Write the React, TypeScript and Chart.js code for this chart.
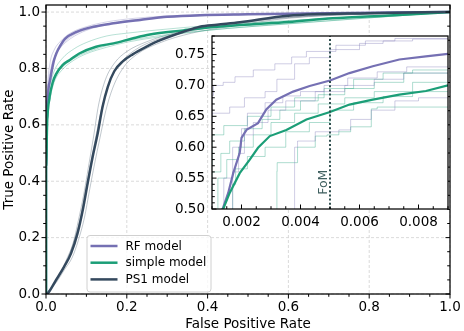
import React, { useEffect, useRef } from "react";
import { Chart, registerables } from "chart.js";
Chart.register(...registerables);

const FONT = '"DejaVu Sans", sans-serif';

// ---------- tick labels ----------
const mainXTicks = [0, 0.2, 0.4, 0.6, 0.8, 1.0];
const mainXLabels = ["0.0", "0.2", "0.4", "0.6", "0.8", "1.0"];
const mainYTicks = [0, 0.2, 0.4, 0.6, 0.8, 1.0];
const mainYLabels = ["0.0", "0.2", "0.4", "0.6", "0.8", "1.0"];
const insetXTicks = [0.002, 0.004, 0.006, 0.008];
const insetXLabels = ["0.002", "0.004", "0.006", "0.008"];
const insetYTicks = [0.5, 0.55, 0.6, 0.65, 0.7, 0.75];
const insetYLabels = ["0.50", "0.55", "0.60", "0.65", "0.70", "0.75"];
const fomX = 0.005;
const fomLabel = "FoM";
const seriesNames = ["RF model", "simple model", "PS1 model"];
const xTitle = "False Positive Rate";
const yTitle = "True Positive Rate";

// ---------- mean ROC curves ----------
const rfFpr = [0, 0, 0.00136, 0.00155, 0.00172, 0.00194, 0.002, 0.00217, 0.00256, 0.00284, 0.00318, 0.00375, 0.00431, 0.005, 0.00566, 0.00645, 0.00735, 0.00825, 0.009, 0.014, 0.02, 0.026, 0.035, 0.047, 0.076, 0.117, 0.167, 0.233, 0.3, 0.381, 0.5, 0.7, 0.85, 1.0];
const rfTpr = [0, 0.45, 0.5, 0.526, 0.558, 0.591, 0.615, 0.628, 0.639, 0.661, 0.677, 0.69, 0.699, 0.708, 0.72, 0.731, 0.742, 0.747, 0.751, 0.79, 0.83, 0.855, 0.88, 0.905, 0.93, 0.948, 0.96, 0.972, 0.983, 0.989, 0.992, 0.996, 0.998, 1.0];

const simpleFpr = [0, 0, 0.00138, 0.0016, 0.00194, 0.00228, 0.00256, 0.00296, 0.00352, 0.0042, 0.005, 0.00566, 0.00645, 0.00735, 0.00825, 0.009, 0.0165, 0.025, 0.041, 0.059, 0.0825, 0.124, 0.167, 0.216, 0.257, 0.34, 0.381, 0.48, 0.6, 0.71, 0.85, 1.0];
const simpleTpr = [0, 0.45, 0.5, 0.526, 0.558, 0.58, 0.599, 0.618, 0.628, 0.645, 0.657, 0.669, 0.677, 0.685, 0.691, 0.7, 0.75, 0.78, 0.812, 0.83, 0.853, 0.877, 0.889, 0.907, 0.92, 0.935, 0.942, 0.954, 0.965, 0.978, 0.988, 1.0];

const ps1Fpr = [0, 0.004, 0.025, 0.045, 0.062, 0.078, 0.091, 0.103, 0.1155, 0.128, 0.14, 0.153, 0.169, 0.19, 0.2145, 0.25, 0.274, 0.34, 0.381, 0.423, 0.48, 0.6, 0.8, 1.0];
const ps1Tpr = [0, 0.002, 0.05, 0.097, 0.144, 0.215, 0.298, 0.392, 0.487, 0.57, 0.664, 0.735, 0.79, 0.825, 0.85, 0.878, 0.895, 0.93, 0.948, 0.955, 0.964, 0.987, 0.996, 1.0];

// ---------- cross-validation folds (main panel) ----------
const rfFold1X = [0, 0, 0.004, 0.01, 0.02, 0.035, 0.06, 0.1, 0.15, 0.22, 0.3, 0.45, 0.7, 1.0];
const rfFold1Y = [0, 0.6, 0.74, 0.82, 0.865, 0.895, 0.925, 0.948, 0.965, 0.978, 0.986, 0.992, 0.997, 1.0];
const rfFold2X = [0, 0, 0.004, 0.01, 0.02, 0.035, 0.06, 0.1, 0.15, 0.22, 0.3, 0.45, 0.7, 1.0];
const rfFold2Y = [0, 0.55, 0.69, 0.77, 0.835, 0.872, 0.905, 0.935, 0.955, 0.97, 0.981, 0.99, 0.995, 1.0];
const rfFold3X = [0, 0, 0.004, 0.012, 0.025, 0.04, 0.07, 0.11, 0.16, 0.23, 0.32, 0.5, 0.75, 1.0];
const rfFold3Y = [0, 0.5, 0.7, 0.8, 0.85, 0.885, 0.92, 0.942, 0.96, 0.975, 0.984, 0.991, 0.996, 1.0];

const sFold1X = [0, 0, 0.004, 0.01, 0.02, 0.04, 0.07, 0.1, 0.15, 0.2, 0.28, 0.4, 0.6, 1.0];
const sFold1Y = [0, 0.6, 0.69, 0.74, 0.79, 0.835, 0.87, 0.892, 0.915, 0.925, 0.937, 0.952, 0.97, 1.0];
const sFold2X = [0, 0, 0.004, 0.01, 0.02, 0.04, 0.07, 0.1, 0.15, 0.2, 0.28, 0.4, 0.6, 1.0];
const sFold2Y = [0, 0.5, 0.62, 0.69, 0.75, 0.795, 0.83, 0.852, 0.875, 0.893, 0.912, 0.935, 0.958, 1.0];
const sFold3X = [0, 0, 0.005, 0.012, 0.025, 0.045, 0.075, 0.11, 0.16, 0.22, 0.3, 0.45, 0.65, 1.0];
const sFold3Y = [0, 0.52, 0.66, 0.72, 0.775, 0.81, 0.84, 0.862, 0.885, 0.903, 0.92, 0.942, 0.964, 1.0];

const psFold1X = [0, 0.02, 0.04, 0.055, 0.07, 0.085, 0.097, 0.11, 0.125, 0.14, 0.16, 0.185, 0.22, 0.27, 0.35, 0.45, 0.6, 0.8, 1.0];
const psFold1Y = [0, 0.035, 0.08, 0.13, 0.19, 0.27, 0.36, 0.46, 0.57, 0.67, 0.76, 0.82, 0.865, 0.9, 0.93, 0.955, 0.98, 0.994, 1.0];
const psFold2X = [0, 0.025, 0.045, 0.065, 0.08, 0.095, 0.108, 0.12, 0.133, 0.148, 0.165, 0.19, 0.225, 0.28, 0.36, 0.46, 0.6, 0.8, 1.0];
const psFold2Y = [0, 0.04, 0.085, 0.13, 0.19, 0.27, 0.37, 0.46, 0.55, 0.65, 0.73, 0.8, 0.85, 0.89, 0.925, 0.95, 0.978, 0.993, 1.0];
const psFold3X = [0, 0.018, 0.035, 0.05, 0.067, 0.08, 0.093, 0.105, 0.118, 0.13, 0.147, 0.17, 0.2, 0.25, 0.33, 0.43, 0.6, 0.8, 1.0];
const psFold3Y = [0, 0.03, 0.07, 0.12, 0.18, 0.26, 0.35, 0.45, 0.56, 0.67, 0.76, 0.82, 0.86, 0.895, 0.93, 0.955, 0.982, 0.995, 1.0];

// ---------- cross-validation folds (inset, step curves) ----------
const rfInFold1X = [0.001, 0.00105, 0.00138, 0.00178, 0.0024, 0.00313, 0.0037, 0.0042, 0.0052, 0.0062, 0.0072, 0.009];
const rfInFold1Y = [0.65, 0.684, 0.7, 0.705, 0.714, 0.725, 0.735, 0.746, 0.755, 0.765, 0.772, 0.776];
const rfInFold2X = [0.001, 0.0016, 0.0021, 0.0028, 0.0032, 0.0038, 0.0043, 0.005, 0.006, 0.0068, 0.0078, 0.009];
const rfInFold2Y = [0.64, 0.655, 0.665, 0.68, 0.69, 0.71, 0.735, 0.745, 0.758, 0.768, 0.772, 0.775];
const rfInFold3X = [0.0014, 0.0017, 0.002, 0.0022, 0.0028, 0.0034, 0.004, 0.0048, 0.0056, 0.0066, 0.0076, 0.009];
const rfInFold3Y = [0.5, 0.55, 0.6, 0.63, 0.655, 0.672, 0.683, 0.69, 0.7, 0.712, 0.722, 0.73];
const rfInFold4X = [0.0017, 0.0019, 0.0021, 0.0024, 0.0029, 0.0035, 0.0045, 0.0055, 0.0065, 0.0075, 0.009];
const rfInFold4Y = [0.5, 0.56, 0.59, 0.62, 0.64, 0.66, 0.675, 0.69, 0.7, 0.71, 0.72];
const rfInFold5X = [0.0038, 0.0039, 0.0045, 0.0053, 0.0057, 0.0064, 0.0072, 0.008, 0.009];
const rfInFold5Y = [0.5, 0.6, 0.61, 0.625, 0.628, 0.645, 0.66, 0.675, 0.68];

const sInFold1X = [0.001, 0.0013, 0.0016, 0.0021, 0.0027, 0.0033, 0.004, 0.0046, 0.0055, 0.0065, 0.0075, 0.009];
const sInFold1Y = [0.53, 0.56, 0.59, 0.61, 0.63, 0.645, 0.66, 0.675, 0.685, 0.695, 0.705, 0.72];
const sInFold2X = [0.0012, 0.0015, 0.0019, 0.0024, 0.003, 0.0038, 0.0046, 0.0055, 0.0065, 0.0078, 0.009];
const sInFold2Y = [0.5, 0.55, 0.58, 0.6, 0.62, 0.64, 0.655, 0.67, 0.68, 0.69, 0.705];
const sInFold3X = [0.0017, 0.0018, 0.0022, 0.0028, 0.0035, 0.0043, 0.005, 0.0058, 0.0068, 0.0078, 0.009];
const sInFold3Y = [0.5, 0.54, 0.565, 0.585, 0.6, 0.625, 0.64, 0.66, 0.672, 0.682, 0.69];
const sInFold4X = [0.0032, 0.00321, 0.0039, 0.0045, 0.0049, 0.0053, 0.0057, 0.0064, 0.0066, 0.009];
const sInFold4Y = [0.5, 0.561, 0.575, 0.6, 0.618, 0.62, 0.625, 0.633, 0.662, 0.665];
const sInFold5X = [0.001, 0.0014, 0.0022, 0.003, 0.0038, 0.0048, 0.0058, 0.0068, 0.0078, 0.009];
const sInFold5Y = [0.57, 0.62, 0.635, 0.65, 0.665, 0.68, 0.695, 0.71, 0.72, 0.725];

// ---------- styles ----------
const RF_COLOR = "#7570b3";
const SIMPLE_COLOR = "#1b9e77";
const PS1_COLOR = "#34495e";
const RF_FAINT = "rgba(117,112,179,0.35)";
const SIMPLE_FAINT = "rgba(27,158,119,0.35)";
const PS1_FAINT = "rgba(52,73,94,0.35)";
const FOM_COLOR = "#2f4f4f";

const pts = (xs: number[], ys: number[]) => xs.map((x, i) => ({ x, y: ys[i] }));

const line = (data: any, color: string, width: number, order: number, stepped: any = false, smooth = false) => ({
  data,
  borderColor: color,
  backgroundColor: color,
  borderWidth: width,
  pointRadius: 0,
  fill: false,
  tension: smooth ? 0.4 : 0,
  cubicInterpolationMode: smooth ? "monotone" : "default",
  stepped,
  order,
});

function strokeLine(ctx: CanvasRenderingContext2D, x1: number, y1: number, x2: number, y2: number) {
  ctx.beginPath();
  ctx.moveTo(x1, y1);
  ctx.lineTo(x2, y2);
  ctx.stroke();
}

function rangeSteps(min: number, max: number, step: number) {
  const out: number[] = [];
  const n = Math.round((max - min) / step);
  for (let i = 0; i <= n; i++) out.push(min + i * step);
  return out;
}

const noPad = (s: any) => {
  s.paddingTop = 0;
  s.paddingBottom = 0;
  s.paddingLeft = 0;
  s.paddingRight = 0;
};

const mainDecor = {
  id: "mainDecor",
  beforeDatasetsDraw(chart: any) {
    const { ctx, chartArea: a, scales } = chart;
    const x = scales.x, y = scales.y;
    ctx.save();
    ctx.strokeStyle = "#d6d6d6";
    ctx.lineWidth = 0.9;
    ctx.setLineDash([3, 2]);
    for (const v of mainXTicks) {
      const px = x.getPixelForValue(v);
      strokeLine(ctx, px, a.top, px, a.bottom);
    }
    for (const v of mainYTicks) {
      const py = y.getPixelForValue(v);
      strokeLine(ctx, a.left, py, a.right, py);
    }
    ctx.restore();
  },
  afterDatasetsDraw(chart: any) {
    const { ctx, chartArea: a, scales } = chart;
    const x = scales.x, y = scales.y;
    ctx.save();
    ctx.strokeStyle = "#000";
    ctx.lineWidth = 1.25;
    ctx.strokeRect(a.left, a.top, a.right - a.left, a.bottom - a.top);
    ctx.lineWidth = 1;
    const minors = rangeSteps(0, 1, 0.05);
    for (const v of minors) {
      const major = mainXTicks.some((t) => Math.abs(t - v) < 1e-9);
      const len = major ? 4.5 : 2.8;
      const px = x.getPixelForValue(v);
      strokeLine(ctx, px, a.bottom, px, a.bottom + len);
      strokeLine(ctx, px, a.top, px, a.top + len);
      const py = y.getPixelForValue(v);
      strokeLine(ctx, a.left, py, a.left - len, py);
      strokeLine(ctx, a.right, py, a.right - len, py);
    }
    ctx.fillStyle = "#000";
    ctx.font = `13.5px ${FONT}`;
    ctx.textAlign = "center";
    ctx.textBaseline = "alphabetic";
    ctx.fillText(xTitle, (a.left + a.right) / 2, 328);
    ctx.save();
    ctx.translate(13, (a.top + a.bottom) / 2);
    ctx.rotate(-Math.PI / 2);
    ctx.fillText(yTitle, 0, 0);
    ctx.restore();
    // legend
    const lx = a.left + 41, ly = a.bottom - 58.5, lw = 124, lh = 56.5;
    ctx.beginPath();
    const r = 3;
    ctx.moveTo(lx + r, ly);
    ctx.arcTo(lx + lw, ly, lx + lw, ly + lh, r);
    ctx.arcTo(lx + lw, ly + lh, lx, ly + lh, r);
    ctx.arcTo(lx, ly + lh, lx, ly, r);
    ctx.arcTo(lx, ly, lx + lw, ly, r);
    ctx.closePath();
    ctx.fillStyle = "rgba(255,255,255,0.8)";
    ctx.fill();
    ctx.strokeStyle = "#d0d0d0";
    ctx.lineWidth = 1;
    ctx.stroke();
    const colors = [RF_COLOR, SIMPLE_COLOR, PS1_COLOR];
    ctx.font = `12px ${FONT}`;
    ctx.textAlign = "left";
    ctx.textBaseline = "middle";
    seriesNames.forEach((name, i) => {
      const ry = ly + 10.5 + i * 16.7;
      ctx.strokeStyle = colors[i];
      ctx.lineWidth = 2.5;
      strokeLine(ctx, lx + 3.5, ry, lx + 30.5, ry);
      ctx.fillStyle = "#000";
      ctx.fillText(name, lx + 38.5, ry + 0.5);
    });
    ctx.restore();
  },
};

const insetDecor = {
  id: "insetDecor",
  beforeDatasetsDraw(chart: any) {
    const { ctx, chartArea: a } = chart;
    ctx.save();
    ctx.fillStyle = "#fff";
    ctx.fillRect(a.left, a.top, a.right - a.left, a.bottom - a.top);
    ctx.restore();
  },
  afterDatasetsDraw(chart: any) {
    const { ctx, chartArea: a, scales } = chart;
    const x = scales.x, y = scales.y;
    ctx.save();
    const fx = x.getPixelForValue(fomX);
    ctx.strokeStyle = FOM_COLOR;
    ctx.lineWidth = 2;
    ctx.setLineDash([2, 2.2]);
    strokeLine(ctx, fx, a.bottom, fx, a.top);
    ctx.setLineDash([]);
    ctx.save();
    ctx.translate(fx - 3, y.getPixelForValue(0.523));
    ctx.rotate(-Math.PI / 2);
    ctx.fillStyle = "#3f5f5f";
    ctx.font = `12.5px ${FONT}`;
    ctx.textAlign = "left";
    ctx.textBaseline = "alphabetic";
    ctx.fillText(fomLabel, 0, 0);
    ctx.restore();
    ctx.strokeStyle = "#000";
    ctx.lineWidth = 1.25;
    ctx.strokeRect(a.left, a.top, a.right - a.left, a.bottom - a.top);
    ctx.lineWidth = 1;
    for (const v of rangeSteps(0.001, 0.009, 0.0005)) {
      const major = insetXTicks.some((t) => Math.abs(t - v) < 1e-9);
      const px = x.getPixelForValue(v);
      strokeLine(ctx, px, a.bottom, px, a.bottom - (major ? 4.5 : 2.8));
    }
    for (const v of rangeSteps(0.5, 0.78, 0.01)) {
      const major = insetYTicks.some((t) => Math.abs(t - v) < 1e-9);
      const py = y.getPixelForValue(v);
      strokeLine(ctx, a.left, py, a.left + (major ? 4.5 : 2.8), py);
    }
    ctx.restore();
  },
};

export default function App() {
  const mainRef = useRef<HTMLCanvasElement>(null);
  const insetRef = useRef<HTMLCanvasElement>(null);

  useEffect(() => {
    const tickFont = { family: FONT, size: 13.5 };
    const main = new Chart(mainRef.current!, {
      type: "line",
      data: {
        datasets: [
          line(pts(rfFold1X, rfFold1Y), RF_FAINT, 0.9, 10, false, true),
          line(pts(rfFold2X, rfFold2Y), RF_FAINT, 0.9, 10, false, true),
          line(pts(rfFold3X, rfFold3Y), RF_FAINT, 0.9, 10, false, true),
          line(pts(sFold1X, sFold1Y), SIMPLE_FAINT, 0.9, 10, false, true),
          line(pts(sFold2X, sFold2Y), SIMPLE_FAINT, 0.9, 10, false, true),
          line(pts(sFold3X, sFold3Y), SIMPLE_FAINT, 0.9, 10, false, true),
          line(pts(psFold1X, psFold1Y), PS1_FAINT, 0.9, 10, false, true),
          line(pts(psFold2X, psFold2Y), PS1_FAINT, 0.9, 10, false, true),
          line(pts(psFold3X, psFold3Y), PS1_FAINT, 0.9, 10, false, true),
          line(pts(rfFpr, rfTpr), RF_COLOR, 2.5, 3, false, true),
          line(pts(simpleFpr, simpleTpr), SIMPLE_COLOR, 2.5, 2, false, true),
          line(pts(ps1Fpr, ps1Tpr), PS1_COLOR, 2.5, 1, false, true),
        ],
      },
      options: {
        animation: false,
        responsive: false,
        devicePixelRatio: 1,
        layout: { padding: { left: 0, right: 14, top: 5, bottom: 0 } },
        plugins: { legend: { display: false }, tooltip: { enabled: false } },
        scales: {
          x: {
            type: "linear",
            min: 0,
            max: 1,
            grid: { display: false, drawTicks: false },
            border: { display: false },
            afterBuildTicks: (s: any) => { s.ticks = mainXTicks.map((v) => ({ value: v })); },
            afterFit: (s: any) => { s.height = 37; noPad(s); },
            ticks: { autoSkip: false, maxRotation: 0, padding: 5, color: "#000", font: tickFont,
              callback: (_v: any, i: number) => mainXLabels[i] },
          },
          y: {
            type: "linear",
            min: 0,
            max: 1.025,
            grid: { display: false, drawTicks: false },
            border: { display: false },
            afterBuildTicks: (s: any) => { s.ticks = mainYTicks.map((v) => ({ value: v })); },
            afterFit: (s: any) => { s.width = 46; noPad(s); },
            ticks: { autoSkip: false, padding: 6, color: "#000", font: tickFont,
              callback: (_v: any, i: number) => mainYLabels[i] },
          },
        },
      },
      plugins: [mainDecor],
    } as any);

    const inset = new Chart(insetRef.current!, {
      type: "line",
      data: {
        datasets: [
          line(pts(rfInFold1X, rfInFold1Y), RF_FAINT, 1, 10, "after"),
          line(pts(rfInFold2X, rfInFold2Y), RF_FAINT, 1, 10, "after"),
          line(pts(rfInFold3X, rfInFold3Y), RF_FAINT, 1, 10, "after"),
          line(pts(rfInFold4X, rfInFold4Y), RF_FAINT, 1, 10, "after"),
          line(pts(rfInFold5X, rfInFold5Y), RF_FAINT, 1, 10, "after"),
          line(pts(sInFold1X, sInFold1Y), SIMPLE_FAINT, 1, 10, "after"),
          line(pts(sInFold2X, sInFold2Y), SIMPLE_FAINT, 1, 10, "after"),
          line(pts(sInFold3X, sInFold3Y), SIMPLE_FAINT, 1, 10, "after"),
          line(pts(sInFold4X, sInFold4Y), SIMPLE_FAINT, 1, 10, "after"),
          line(pts(sInFold5X, sInFold5Y), SIMPLE_FAINT, 1, 10, "after"),
          line(pts(rfFpr, rfTpr), RF_COLOR, 2.2, 2),
          line(pts(simpleFpr, simpleTpr), SIMPLE_COLOR, 2.2, 1),
          line(pts(ps1Fpr, ps1Tpr), PS1_COLOR, 2.2, 0),
        ],
      },
      options: {
        animation: false,
        responsive: false,
        devicePixelRatio: 1,
        layout: { padding: { left: 0, right: 4, top: 6, bottom: 0 } },
        plugins: { legend: { display: false }, tooltip: { enabled: false } },
        scales: {
          x: {
            type: "linear",
            min: 0.001,
            max: 0.009,
            grid: { display: false, drawTicks: false },
            border: { display: false },
            afterBuildTicks: (s: any) => { s.ticks = insetXTicks.map((v) => ({ value: v })); },
            afterFit: (s: any) => { s.height = 21; noPad(s); },
            ticks: { autoSkip: false, maxRotation: 0, padding: 5, color: "#000", font: tickFont,
              callback: (_v: any, i: number) => insetXLabels[i] },
          },
          y: {
            type: "linear",
            min: 0.5,
            max: 0.78,
            grid: { display: false, drawTicks: false },
            border: { display: false },
            afterBuildTicks: (s: any) => { s.ticks = insetYTicks.map((v) => ({ value: v })); },
            afterFit: (s: any) => { s.width = 42; noPad(s); },
            ticks: { autoSkip: false, padding: 7, color: "#000", font: tickFont,
              callback: (_v: any, i: number) => insetYLabels[i] },
          },
        },
      },
      plugins: [insetDecor],
    } as any);

    return () => {
      main.destroy();
      inset.destroy();
    };
  }, []);

  return (
    <div style={{ position: "absolute", left: 0, top: 0, width: 464, height: 331, background: "#fff" }}>
      <canvas ref={mainRef} width={464} height={331} style={{ position: "absolute", left: 0, top: 0 }} />
      <canvas ref={insetRef} width={282} height={200} style={{ position: "absolute", left: 170, top: 30 }} />
    </div>
  );
}
